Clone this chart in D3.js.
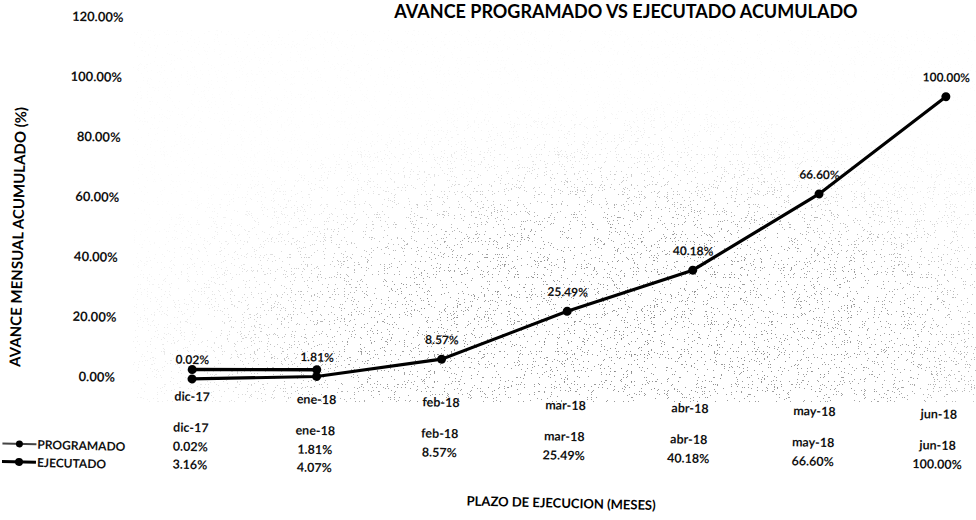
<!DOCTYPE html>
<html>
<head>
<meta charset="utf-8">
<script src="https://cdn.jsdelivr.net/npm/d3@7"></script>
<style>
  html, body { margin: 0; padding: 0; background: #fff; }
  svg { display: block; font-family: Lato, "Open Sans", sans-serif; }
</style>
</head>
<body>
<svg id="chart" width="976" height="520"></svg>
<script>
// Monthly schedule
const categories = ["dic-17", "ene-18", "feb-18", "mar-18", "abr-18", "may-18", "jun-18"];
// Cumulative progress (%)
const programado = [0.02, 1.81, 8.57, 25.49, 40.18, 66.60, 100.00];
const ejecutado = [3.16, 4.07];
// Axis ticks (%)
const yTicks = [0, 20, 40, 60, 80, 100, 120];

const titleText = "AVANCE PROGRAMADO VS EJECUTADO ACUMULADO";
const yTitle = "AVANCE MENSUAL ACUMULADO (%)";
const xTitle = "PLAZO DE EJECUCION (MESES)";
const seriesNames = ["PROGRAMADO", "EJECUTADO"];

const fmt = v => v.toFixed(2) + "%";

const svg = d3.select("#chart");

// speckled plot-area fill
const defs = svg.append("defs");
const grain = defs.append("filter").attr("id", "grain")
  .attr("x", 0).attr("y", 0).attr("width", "100%").attr("height", "100%")
  .attr("color-interpolation-filters", "sRGB");
grain.append("feTurbulence").attr("type", "fractalNoise")
  .attr("baseFrequency", 1.3).attr("numOctaves", 1).attr("seed", 11).attr("result", "n");
grain.append("feColorMatrix").attr("in", "n").attr("type", "matrix")
  .attr("values", "0 0 0 0 0.5  0 0 0 0 0.5  0 0 0 0 0.5  1 0 0 0 0").attr("result", "a");
grain.append("feComponentTransfer").attr("in", "a")
  .append("feFuncA").attr("type", "discrete")
  .attr("tableValues", "0 0 0 0 0 0 0 0 0 0 0 0.85 1 1 1 1");

const rg = defs.append("radialGradient").attr("id", "fade")
  .attr("cx", "60%").attr("cy", "85%").attr("r", "72%");
rg.append("stop").attr("offset", "0%").attr("stop-color", "#fff").attr("stop-opacity", 1);
rg.append("stop").attr("offset", "45%").attr("stop-color", "#fff").attr("stop-opacity", 0.85);
rg.append("stop").attr("offset", "72%").attr("stop-color", "#fff").attr("stop-opacity", 0.25);
rg.append("stop").attr("offset", "92%").attr("stop-color", "#fff").attr("stop-opacity", 0.04);
const mask = defs.append("mask").attr("id", "fadeMask");
mask.append("rect").attr("x", 133).attr("y", 30).attr("width", 843).attr("height", 372)
  .attr("fill", "url(#fade)");

svg.append("g").attr("mask", "url(#fadeMask)")
  .append("rect").attr("x", 133).attr("y", 30).attr("width", 843).attr("height", 372)
  .attr("fill", "#fff").attr("filter", "url(#grain)");

// title
svg.append("text").attr("x", 626).attr("y", 18).attr("text-anchor", "middle")
  .attr("font-size", 18).attr("font-weight", "bold").attr("fill", "#000").text(titleText);

// the whole sheet sits slightly turned
const g = svg.append("g").attr("transform", "rotate(1.35, 192, 379)");

const x = d3.scalePoint().domain(categories).range([192, 939]);
const y = d3.scaleLinear().domain([0, 120]).range([379, 19]);

// y axis
const yAxis = g.append("g").attr("transform", "translate(118,0)")
  .call(d3.axisLeft(y).tickValues(yTicks).tickFormat(d => d.toFixed(2) + "%").tickSize(0).tickPadding(3));
yAxis.select(".domain").remove();
yAxis.selectAll("text").attr("font-size", 13).attr("font-weight", "bold")
  .attr("font-family", "Lato, sans-serif").attr("fill", "#111");

// category axis
const xAxis = g.append("g").attr("transform", "translate(0,389)")
  .call(d3.axisBottom(x).tickSize(0).tickPadding(3));
xAxis.select(".domain").remove();
xAxis.selectAll("text").attr("font-size", 12.5).attr("font-weight", "bold")
  .attr("font-family", "Lato, sans-serif").attr("fill", "#111");

// axis titles
g.append("text").attr("transform", "translate(20,241) rotate(-90)")
  .attr("text-anchor", "middle").attr("font-size", 15).attr("font-weight", "bold").text(yTitle);
g.append("text").attr("x", 564).attr("y", 499).attr("text-anchor", "middle")
  .attr("font-size", 13).attr("font-weight", "bold").text(xTitle);

// lines
const line = d3.line().x((d, i) => x(categories[i])).y(d => y(d));
g.append("path").datum(programado).attr("d", line)
  .attr("fill", "none").attr("stroke", "#000").attr("stroke-width", 3.2);
g.append("path").datum(ejecutado).attr("d", line)
  .attr("fill", "none").attr("stroke", "#000").attr("stroke-width", 3.4);

g.selectAll("circle.prog").data(programado).join("circle").attr("class", "prog")
  .attr("cx", (d, i) => x(categories[i])).attr("cy", d => y(d)).attr("r", 4.5).attr("fill", "#000");
g.selectAll("circle.ejec").data(ejecutado).join("circle").attr("class", "ejec")
  .attr("cx", (d, i) => x(categories[i])).attr("cy", d => y(d)).attr("r", 4.5).attr("fill", "#000");

// value labels on the programmed curve
g.selectAll("text.lbl").data(programado).join("text").attr("class", "lbl")
  .attr("x", (d, i) => x(categories[i])).attr("y", d => y(d) - 15)
  .attr("text-anchor", "middle").attr("font-size", 12).attr("font-weight", "bold")
  .attr("fill", "#111").text(d => fmt(d));

// data table below the chart
const table = g.append("g").attr("font-size", 12.5).attr("font-weight", "bold").attr("fill", "#111");
table.selectAll("text.cat").data(categories).join("text").attr("class", "cat")
  .attr("x", d => x(d)).attr("y", 432).attr("text-anchor", "middle").text(d => d);
table.selectAll("text.vp").data(programado).join("text").attr("class", "vp")
  .attr("x", (d, i) => x(categories[i])).attr("y", 451).attr("text-anchor", "middle").text(d => fmt(d));
table.selectAll("text.ve").data(ejecutado).join("text").attr("class", "ve")
  .attr("x", (d, i) => x(categories[i])).attr("y", 469).attr("text-anchor", "middle").text(d => fmt(d));

// legend keys at the start of each table row
const legend = g.append("g");
seriesNames.forEach((name, i) => {
  const ly = 448 + i * 18;
  legend.append("line").attr("x1", 4).attr("x2", 38).attr("y1", ly).attr("y2", ly)
    .attr("stroke", i === 0 ? "#444" : "#000").attr("stroke-width", i === 0 ? 2 : 3);
  legend.append("circle").attr("cx", 21).attr("cy", ly).attr("r", i === 0 ? 3.5 : 4).attr("fill", "#000");
  legend.append("text").attr("x", 39).attr("y", ly + 4.5).attr("font-size", 12)
    .attr("font-weight", "bold").attr("fill", "#111").text(name);
});
</script>
</body>
</html>
